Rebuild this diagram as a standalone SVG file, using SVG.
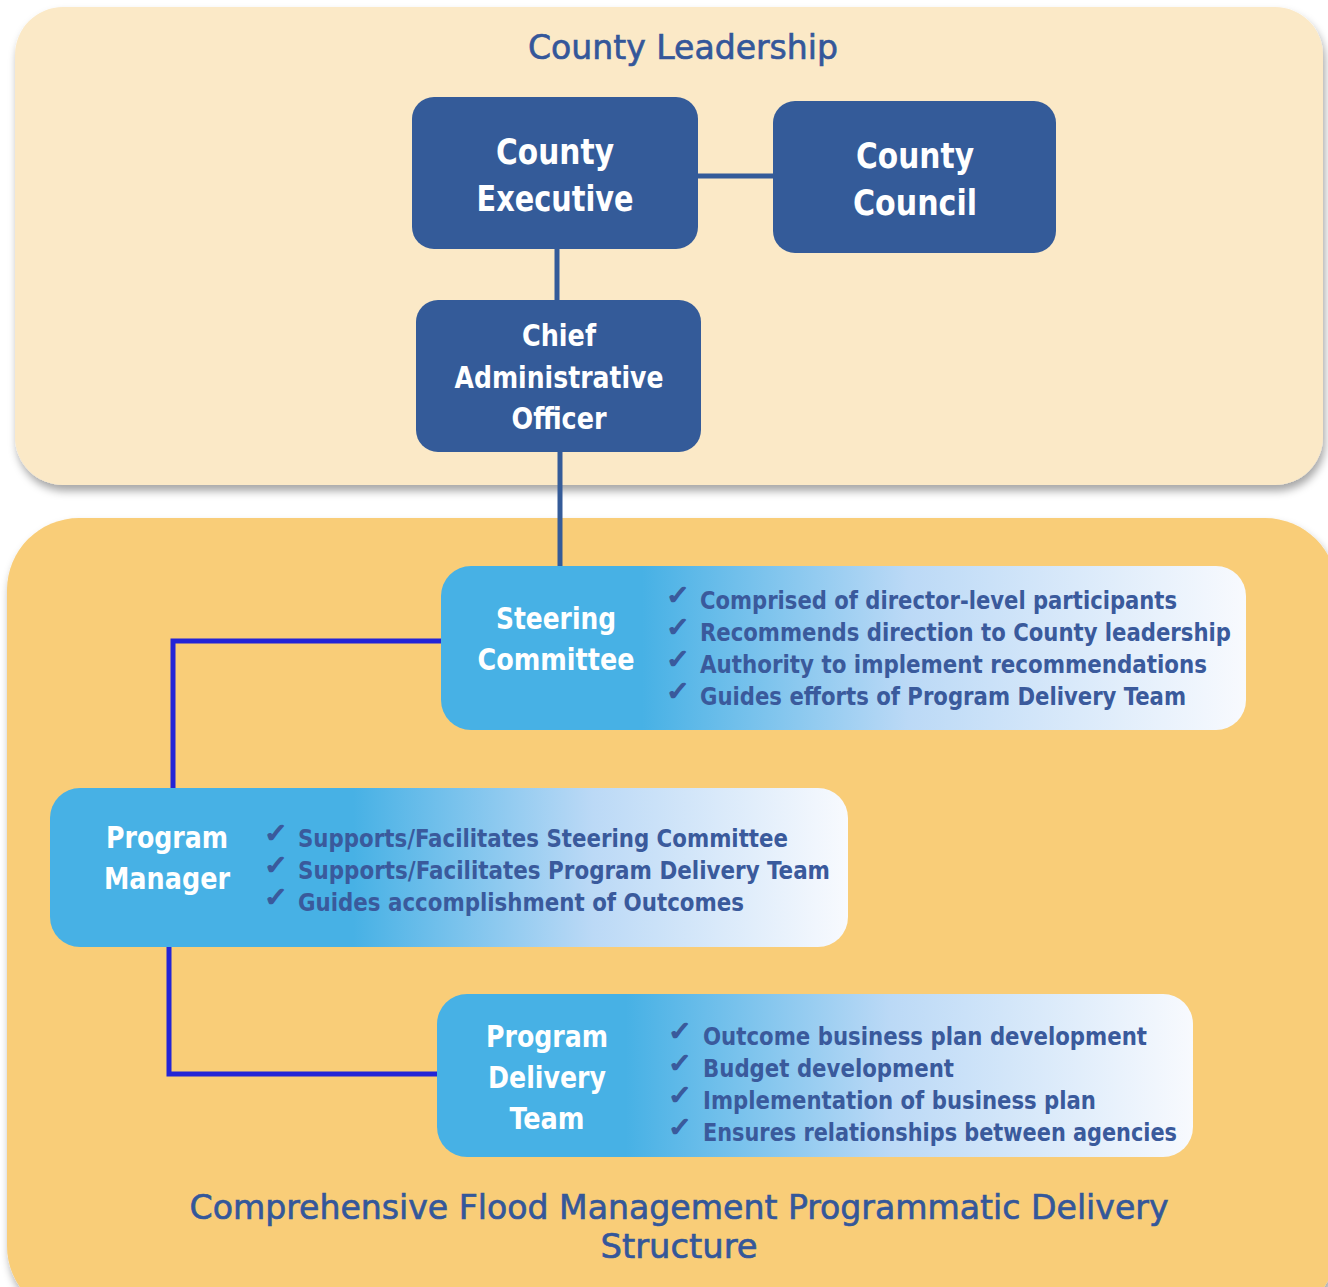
<svg xmlns="http://www.w3.org/2000/svg" width="1328" height="1287" viewBox="0 0 1328 1287">
<style>
.panelTitle{font-family:"DejaVu Sans Condensed","Liberation Sans Narrow","Liberation Sans",sans-serif;font-size:34px;fill:#34579A;stroke:#34579A;stroke-width:0.6;text-anchor:middle}
.dark{fill:#345B99}
.nodeText{font-family:"DejaVu Sans Condensed","Liberation Sans Narrow","Liberation Sans",sans-serif;font-weight:bold;fill:#FFFFFF;text-anchor:middle}
.item{font-family:"DejaVu Sans Condensed","Liberation Sans Narrow","Liberation Sans",sans-serif;font-weight:bold;font-size:25px;fill:#3A5A9C}
.check{font-family:"DejaVu Sans","Liberation Sans",sans-serif;font-size:26px;fill:#3A5A9C;stroke:#3A5A9C;stroke-width:1.6}
.conDark{stroke:#345B99;stroke-width:5;fill:none}
.conBlue{stroke:#2424D6;stroke-width:5;fill:none}
</style>
<defs>
<filter id="shadow" x="-5%" y="-5%" width="110%" height="115%">
<feDropShadow dx="2" dy="6" stdDeviation="4" flood-color="#000000" flood-opacity="0.35"/>
</filter>
<linearGradient id="gSC" x1="0" y1="0" x2="1" y2="0">
<stop offset="0" stop-color="#47B1E5"/>
<stop offset="0.25" stop-color="#47B1E5"/>
<stop offset="0.58" stop-color="#BBD9F6"/>
<stop offset="1" stop-color="#F8FAFE"/>
</linearGradient>
<linearGradient id="gPM" x1="0" y1="0" x2="1" y2="0">
<stop offset="0" stop-color="#47B1E5"/>
<stop offset="0.38" stop-color="#47B1E5"/>
<stop offset="0.68" stop-color="#BBD9F6"/>
<stop offset="1" stop-color="#F8FAFE"/>
</linearGradient>
<linearGradient id="gPD" x1="0" y1="0" x2="1" y2="0">
<stop offset="0" stop-color="#47B1E5"/>
<stop offset="0.25" stop-color="#47B1E5"/>
<stop offset="0.6" stop-color="#BBD9F6"/>
<stop offset="1" stop-color="#F8FAFE"/>
</linearGradient>
</defs>

<g id="panel-leadership">
<rect x="15" y="7" width="1308" height="478" rx="48" fill="#FBE9C7" filter="url(#shadow)"/>
<text class="panelTitle" x="683" y="59" textLength="310" lengthAdjust="spacingAndGlyphs">County Leadership</text>
</g>

<g id="panel-delivery">
<rect x="7" y="518" width="1330" height="800" rx="72" fill="#F9CD78" filter="url(#shadow)"/>
<text class="panelTitle" x="679" y="1219" textLength="979" lengthAdjust="spacingAndGlyphs">Comprehensive Flood Management Programmatic Delivery</text>
<text class="panelTitle" x="679" y="1258" textLength="157" lengthAdjust="spacingAndGlyphs">Structure</text>
</g>

<g id="connectors">
<line class="conDark" x1="698" y1="176" x2="773" y2="176"/>
<line class="conDark" x1="557" y1="249" x2="557" y2="300"/>
<line class="conDark" x1="560" y1="452" x2="560" y2="568"/>
<polyline class="conBlue" points="442,641 173,641 173,789"/>
<polyline class="conBlue" points="169,946 169,1074 438,1074"/>
</g>

<g id="county-executive">
<rect class="dark" x="412" y="97" width="286" height="152" rx="22"/>
<text class="nodeText" font-size="35" x="555" y="164" textLength="118" lengthAdjust="spacingAndGlyphs">County</text>
<text class="nodeText" font-size="35" x="555" y="211" textLength="157" lengthAdjust="spacingAndGlyphs">Executive</text>
</g>

<g id="county-council">
<rect class="dark" x="773" y="101" width="283" height="152" rx="22"/>
<text class="nodeText" font-size="35" x="915" y="168" textLength="118" lengthAdjust="spacingAndGlyphs">County</text>
<text class="nodeText" font-size="35" x="915" y="215" textLength="124" lengthAdjust="spacingAndGlyphs">Council</text>
</g>

<g id="chief-administrative-officer">
<rect class="dark" x="416" y="300" width="285" height="152" rx="22"/>
<text class="nodeText" font-size="30" x="559" y="346" textLength="74" lengthAdjust="spacingAndGlyphs">Chief</text>
<text class="nodeText" font-size="30" x="559" y="388" textLength="209" lengthAdjust="spacingAndGlyphs">Administrative</text>
<text class="nodeText" font-size="30" x="559" y="429" textLength="95" lengthAdjust="spacingAndGlyphs">Officer</text>
</g>

<g id="steering-committee">
<rect x="441" y="566" width="805" height="164" rx="30" fill="url(#gSC)"/>
<text class="nodeText" font-size="30" x="556" y="629" textLength="120" lengthAdjust="spacingAndGlyphs">Steering</text>
<text class="nodeText" font-size="30" x="556" y="670" textLength="157" lengthAdjust="spacingAndGlyphs">Committee</text>
<text class="check" x="666" y="604" textLength="24" lengthAdjust="spacingAndGlyphs">✓</text>
<text class="check" x="666" y="636" textLength="24" lengthAdjust="spacingAndGlyphs">✓</text>
<text class="check" x="666" y="668" textLength="24" lengthAdjust="spacingAndGlyphs">✓</text>
<text class="check" x="666" y="700" textLength="24" lengthAdjust="spacingAndGlyphs">✓</text>
<text class="item" x="700" y="609" textLength="477" lengthAdjust="spacingAndGlyphs">Comprised of director-level participants</text>
<text class="item" x="700" y="641" textLength="531" lengthAdjust="spacingAndGlyphs">Recommends direction to County leadership</text>
<text class="item" x="700" y="673" textLength="507" lengthAdjust="spacingAndGlyphs">Authority to implement recommendations</text>
<text class="item" x="700" y="705" textLength="486" lengthAdjust="spacingAndGlyphs">Guides efforts of Program Delivery Team</text>
</g>

<g id="program-manager">
<rect x="50" y="788" width="798" height="159" rx="30" fill="url(#gPM)"/>
<text class="nodeText" font-size="30" x="167" y="848" textLength="122" lengthAdjust="spacingAndGlyphs">Program</text>
<text class="nodeText" font-size="30" x="167" y="889" textLength="126" lengthAdjust="spacingAndGlyphs">Manager</text>
<text class="check" x="264" y="842" textLength="24" lengthAdjust="spacingAndGlyphs">✓</text>
<text class="check" x="264" y="874" textLength="24" lengthAdjust="spacingAndGlyphs">✓</text>
<text class="check" x="264" y="906" textLength="24" lengthAdjust="spacingAndGlyphs">✓</text>
<text class="item" x="298" y="847" textLength="490" lengthAdjust="spacingAndGlyphs">Supports/Facilitates Steering Committee</text>
<text class="item" x="298" y="879" textLength="532" lengthAdjust="spacingAndGlyphs">Supports/Facilitates Program Delivery Team</text>
<text class="item" x="298" y="911" textLength="446" lengthAdjust="spacingAndGlyphs">Guides accomplishment of Outcomes</text>
</g>

<g id="program-delivery-team">
<rect x="437" y="994" width="756" height="163" rx="30" fill="url(#gPD)"/>
<text class="nodeText" font-size="30" x="547" y="1047" textLength="122" lengthAdjust="spacingAndGlyphs">Program</text>
<text class="nodeText" font-size="30" x="547" y="1088" textLength="118" lengthAdjust="spacingAndGlyphs">Delivery</text>
<text class="nodeText" font-size="30" x="547" y="1129" textLength="75" lengthAdjust="spacingAndGlyphs">Team</text>
<text class="check" x="668" y="1040" textLength="24" lengthAdjust="spacingAndGlyphs">✓</text>
<text class="check" x="668" y="1072" textLength="24" lengthAdjust="spacingAndGlyphs">✓</text>
<text class="check" x="668" y="1104" textLength="24" lengthAdjust="spacingAndGlyphs">✓</text>
<text class="check" x="668" y="1136" textLength="24" lengthAdjust="spacingAndGlyphs">✓</text>
<text class="item" x="703" y="1045" textLength="444" lengthAdjust="spacingAndGlyphs">Outcome business plan development</text>
<text class="item" x="703" y="1077" textLength="251" lengthAdjust="spacingAndGlyphs">Budget development</text>
<text class="item" x="703" y="1109" textLength="393" lengthAdjust="spacingAndGlyphs">Implementation of business plan</text>
<text class="item" x="703" y="1141" textLength="474" lengthAdjust="spacingAndGlyphs">Ensures relationships between agencies</text>
</g>
</svg>
